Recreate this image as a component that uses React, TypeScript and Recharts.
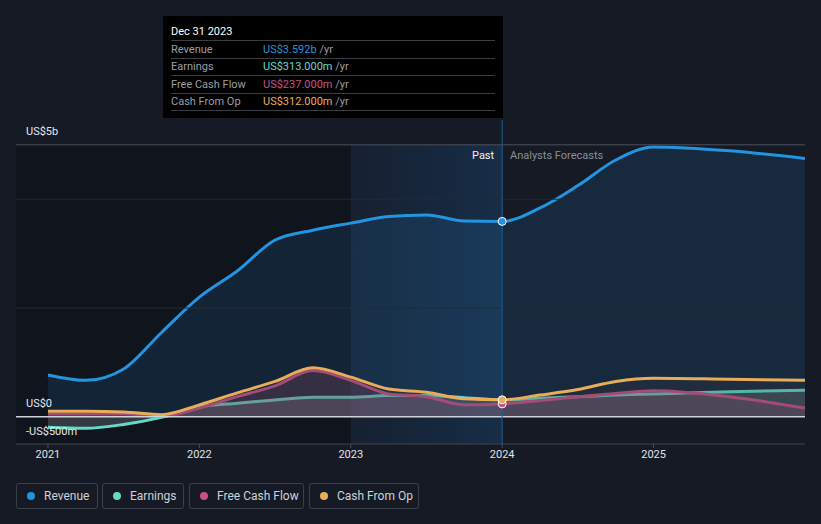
import { ComposedChart, Area, XAxis, YAxis, ReferenceLine, ReferenceArea, ReferenceDot } from 'recharts';

// x positions in fractional years, values in US$ billions
const periods = [2021, 2021.25, 2021.5, 2021.75, 2022, 2022.25, 2022.5, 2022.75, 2023, 2023.25, 2023.5, 2023.75, 2024, 2024.25, 2024.5, 2024.75, 2025, 2025.5, 2026];
const revenue = [0.77, 0.67, 0.88, 1.55, 2.2, 2.68, 3.25, 3.43, 3.56, 3.68, 3.71, 3.6, 3.592, 3.84, 4.25, 4.72, 4.96, 4.89, 4.75];
const earnings = [-0.19, -0.21, -0.14, -0.01, 0.18, 0.25, 0.31, 0.36, 0.36, 0.39, 0.39, 0.35, 0.313, 0.34, 0.37, 0.4, 0.42, 0.46, 0.49];
const freeCashFlow = [0.05, 0.05, 0.05, 0.01, 0.16, 0.37, 0.57, 0.85, 0.67, 0.42, 0.37, 0.22, 0.237, 0.3, 0.37, 0.43, 0.48, 0.37, 0.16];
const cashFromOp = [0.1, 0.1, 0.09, 0.04, 0.22, 0.44, 0.65, 0.9, 0.73, 0.51, 0.45, 0.33, 0.312, 0.4, 0.5, 0.65, 0.71, 0.69, 0.67];
const yearTicks = [2021, 2022, 2023, 2024, 2025];

const data = periods.map((x, i) => ({
  x,
  revenue: revenue[i],
  earnings: earnings[i],
  fcf: freeCashFlow[i],
  cfo: cashFromOp[i],
}));

const C = {
  revenue: '#2394df',
  earnings: '#62dcc8',
  fcf: '#c9508b',
  cfo: '#e9ad5a',
};

const font = 'Roboto, "Open Sans", sans-serif';

const legendItems = [
  { name: 'Revenue', color: C.revenue, left: 16, width: 82 },
  { name: 'Earnings', color: C.earnings, left: 102, width: 82 },
  { name: 'Free Cash Flow', color: C.fcf, left: 189, width: 115 },
  { name: 'Cash From Op', color: C.cfo, left: 309, width: 110 },
];

const tipRows = [
  { label: 'Revenue', value: 'US$3.592b', color: C.revenue },
  { label: 'Earnings', value: 'US$313.000m', color: C.earnings },
  { label: 'Free Cash Flow', value: 'US$237.000m', color: C.fcf },
  { label: 'Cash From Op', value: 'US$312.000m', color: C.cfo },
];

export default function App() {
  return (
    <div style={{ position: 'fixed', left: 0, top: 0, width: 821, height: 524, background: '#151a25', fontFamily: font, overflow: 'hidden' }}>
      <ComposedChart width={821} height={524} data={data} margin={{ top: 120, right: 16, bottom: 50, left: 16 }}>
        <defs>
          <linearGradient id="pastBand" x1="0" y1="0" x2="1" y2="0">
            <stop offset="0%" stopColor="#1a3d62" stopOpacity={0.4} />
            <stop offset="100%" stopColor="#1b5288" stopOpacity={0.7} />
          </linearGradient>
        </defs>
        <XAxis
          dataKey="x"
          type="number"
          domain={[2020.789, 2026]}
          ticks={yearTicks}
          allowDataOverflow
          axisLine={false}
          tickLine={{ stroke: '#4a4f58' }}
          tickSize={4}
          height={30}
          tick={{ fill: '#e0e3e8', fontSize: 11, fontFamily: font }}
          tickFormatter={(v: number) => String(v)}
        />
        <YAxis hide type="number" domain={[-0.5, 5.456]} allowDataOverflow />
        <ReferenceArea x1={2020.789} x2={2023} y1={-0.5} y2={5} fill="#0b0e14" fillOpacity={0.45} stroke="none" />
        <ReferenceArea x1={2023} x2={2024} y1={-0.5} y2={5} fill="url(#pastBand)" stroke="none" />
        <ReferenceLine y={5} stroke="#4b505a" strokeWidth={1} />
        <ReferenceLine y={4} stroke="#252a33" strokeWidth={1} />
        <ReferenceLine y={2} stroke="#252a33" strokeWidth={1} />
        <ReferenceLine y={-0.5} stroke="#40454e" strokeWidth={1} />
        <Area type="monotone" dataKey="revenue" stroke={C.revenue} strokeWidth={3} fill={C.revenue} fillOpacity={0.13} isAnimationActive={false} dot={false} activeDot={false} />
        <Area type="monotone" dataKey="earnings" stroke={C.earnings} strokeWidth={3} fill="#b9c4c8" fillOpacity={0.22} isAnimationActive={false} dot={false} activeDot={false} />
        <Area type="monotone" dataKey="fcf" stroke={C.fcf} strokeWidth={3} fill={C.fcf} fillOpacity={0.18} isAnimationActive={false} dot={false} activeDot={false} />
        <Area type="monotone" dataKey="cfo" stroke={C.cfo} strokeWidth={3} fill="#3a3a3a" fillOpacity={0.25} isAnimationActive={false} dot={false} activeDot={false} />
        <ReferenceLine y={0} stroke="#cfd3d9" strokeWidth={1.5} />
        <ReferenceLine x={2024} stroke="#1e5c8e" strokeWidth={1} />
        <ReferenceDot x={2024} y={freeCashFlow[12]} r={4} fill={C.fcf} stroke="#ffffff" strokeWidth={1} />
        <ReferenceDot x={2024} y={cashFromOp[12]} r={4} fill={C.cfo} stroke="#ffffff" strokeWidth={1} />
        <ReferenceDot x={2024} y={revenue[12]} r={4} fill={C.revenue} stroke="#ffffff" strokeWidth={1} />
      </ComposedChart>

      {/* y labels */}
      <div style={{ position: 'absolute', left: 26, top: 125, fontSize: 11, color: '#e6e8ec' }}>US$5b</div>
      <div style={{ position: 'absolute', left: 26, top: 397, fontSize: 11, color: '#e6e8ec' }}>US$0</div>
      <div style={{ position: 'absolute', left: 26, top: 425, fontSize: 11, color: '#e6e8ec' }}>-US$500m</div>

      {/* past / forecast labels */}
      <div style={{ position: 'absolute', left: 472, top: 149, fontSize: 11, color: '#f0f2f5' }}>Past</div>
      <div style={{ position: 'absolute', left: 510, top: 149, fontSize: 11, color: '#8a8f98' }}>Analysts Forecasts</div>

      {/* tooltip */}
      <div style={{ position: 'absolute', left: 163, top: 16, width: 340, height: 102, background: '#000000', boxSizing: 'border-box', padding: '9px 8px 0 8px' }}>
        <div style={{ fontSize: 11, color: '#ffffff', height: 15, lineHeight: '13px' }}>Dec 31 2023</div>
        {tipRows.map((r) => (
          <div key={r.label} style={{ borderTop: '1px solid #3a3d42', height: 16.5, display: 'flex', alignItems: 'center', fontSize: 11 }}>
            <span style={{ width: 92, color: '#9a9ea6' }}>{r.label}</span>
            <span style={{ color: r.color }}>{r.value}</span>
            <span style={{ color: '#9a9ea6' }}>&nbsp;/yr</span>
          </div>
        ))}
        <div style={{ borderTop: '1px solid #3a3d42' }} />
      </div>

      {/* legend */}
      {legendItems.map((l) => (
        <div key={l.name} style={{ position: 'absolute', left: l.left, top: 483, width: l.width, height: 26, boxSizing: 'border-box', border: '1px solid #3a3f49', borderRadius: 3, display: 'flex', alignItems: 'center', fontSize: 12, color: '#cfd2d8' }}>
          <span style={{ display: 'inline-block', width: 8, height: 8, borderRadius: 4, background: l.color, marginLeft: 10, marginRight: 9 }} />
          {l.name}
        </div>
      ))}
    </div>
  );
}
